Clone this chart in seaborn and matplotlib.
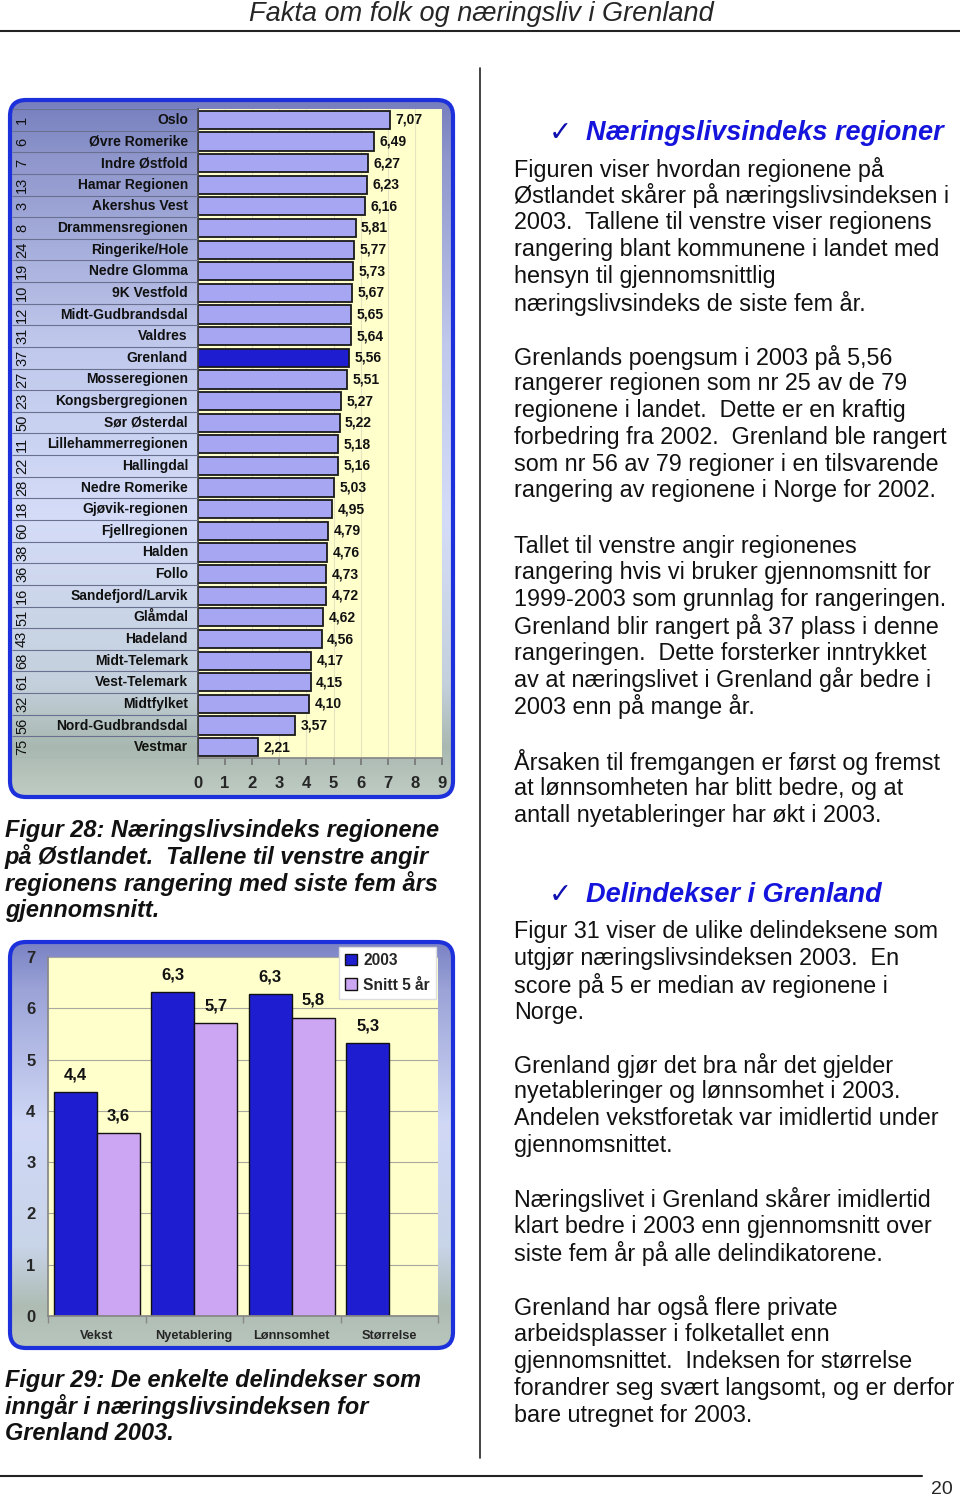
import numpy as np
import pandas as pd
import seaborn as sns
import matplotlib.pyplot as plt
from matplotlib.patches import FancyBboxPatch
from matplotlib.colors import LinearSegmentedColormap
from matplotlib.lines import Line2D

# Figur 28: næringslivsindeks 2003, regioner på Østlandet
regions = ['Oslo', 'Øvre Romerike', 'Indre Østfold', 'Hamar Regionen', 'Akershus Vest',
           'Drammensregionen', 'Ringerike/Hole', 'Nedre Glomma', '9K Vestfold',
           'Midt-Gudbrandsdal', 'Valdres', 'Grenland', 'Mosseregionen', 'Kongsbergregionen',
           'Sør Østerdal', 'Lillehammerregionen', 'Hallingdal', 'Nedre Romerike',
           'Gjøvik-regionen', 'Fjellregionen', 'Halden', 'Follo', 'Sandefjord/Larvik',
           'Glåmdal', 'Hadeland', 'Midt-Telemark', 'Vest-Telemark', 'Midtfylket',
           'Nord-Gudbrandsdal', 'Vestmar']
ranks = [1, 6, 7, 13, 3, 8, 24, 19, 10, 12, 31, 37, 27, 23, 50, 11, 22, 28, 18, 60,
         38, 36, 16, 51, 43, 68, 61, 32, 56, 75]
scores = [7.07, 6.49, 6.27, 6.23, 6.16, 5.81, 5.77, 5.73, 5.67, 5.65, 5.64, 5.56, 5.51,
          5.27, 5.22, 5.18, 5.16, 5.03, 4.95, 4.79, 4.76, 4.73, 4.72, 4.62, 4.56, 4.17,
          4.15, 4.10, 3.57, 2.21]

# Figur 29: delindekser Grenland
deler = ['Vekst', 'Nyetablering', 'Lønnsomhet', 'Størrelse']
score_2003 = [4.36, 6.31, 6.27, 5.32]
score_snitt = [3.57, 5.71, 5.82, np.nan]

header = 'Fakta om folk og næringsliv i Grenland'
heading1 = 'Næringslivsindeks regioner'
heading2 = 'Delindekser i Grenland'
paragraphs = [
    (169, ['Figuren viser hvordan regionene på',
           'Østlandet skårer på næringslivsindeksen i',
           '2003.  Tallene til venstre viser regionens',
           'rangering blant kommunene i landet med',
           'hensyn til gjennomsnittlig',
           'næringslivsindeks de siste fem år.']),
    (357, ['Grenlands poengsum i 2003 på 5,56',
           'rangerer regionen som nr 25 av de 79',
           'regionene i landet.  Dette er en kraftig',
           'forbedring fra 2002.  Grenland ble rangert',
           'som nr 56 av 79 regioner i en tilsvarende',
           'rangering av regionene i Norge for 2002.']),
    (546, ['Tallet til venstre angir regionenes',
           'rangering hvis vi bruker gjennomsnitt for',
           '1999-2003 som grunnlag for rangeringen.',
           'Grenland blir rangert på 37 plass i denne',
           'rangeringen.  Dette forsterker inntrykket',
           'av at næringslivet i Grenland går bedre i',
           '2003 enn på mange år.']),
    (762, ['Årsaken til fremgangen er først og fremst',
           'at lønnsomheten har blitt bedre, og at',
           'antall nyetableringer har økt i 2003.']),
    (932, ['Figur 31 viser de ulike delindeksene som',
           'utgjør næringslivsindeksen 2003.  En',
           'score på 5 er median av regionene i',
           'Norge.']),
    (1065, ['Grenland gjør det bra når det gjelder',
            'nyetableringer og lønnsomhet i 2003.',
            'Andelen vekstforetak var imidlertid under',
            'gjennomsnittet.']),
    (1200, ['Næringslivet i Grenland skårer imidlertid',
            'klart bedre i 2003 enn gjennomsnitt over',
            'siste fem år på alle delindikatorene.']),
    (1308, ['Grenland har også flere private',
            'arbeidsplasser i folketallet enn',
            'gjennomsnittet.  Indeksen for størrelse',
            'forandrer seg svært langsomt, og er derfor',
            'bare utregnet for 2003.']),
]
caption28 = ['Figur 28: Næringslivsindeks regionene',
             'på Østlandet.  Tallene til venstre angir',
             'regionens rangering med siste fem års',
             'gjennomsnitt.']
caption29 = ['Figur 29: De enkelte delindekser som',
             'inngår i næringslivsindeksen for',
             'Grenland 2003.']

W, H = 960, 1500
sns.set_theme(style='white')
plt.rcParams['font.family'] = ['Liberation Sans', 'DejaVu Sans']

fig = plt.figure(figsize=(9.6, 15), dpi=100)
fig.patch.set_facecolor('white')


def box(x0, y0, x1, y1):
    return [x0 / W, 1 - y1 / H, (x1 - x0) / W, (y1 - y0) / H]


def fy(y):
    return 1 - y / H


def panel(x0, y0, x1, y1, stops):
    cmap = LinearSegmentedColormap.from_list('p', stops)
    bg = fig.add_axes(box(x0, y0, x1, y1), zorder=0)
    bg.set_axis_off()
    grad = np.linspace(0, 1, 256).reshape(-1, 1)
    im = bg.imshow(grad, aspect='auto', cmap=cmap, extent=[0, 1, 0, 1], origin='upper')
    shape = dict(boxstyle='round,pad=0,rounding_size=0.16', transform=fig.dpi_scale_trans)
    clip = FancyBboxPatch((x0 / 100, (H - y1) / 100), (x1 - x0) / 100, (y1 - y0) / 100, **shape)
    im.set_clip_path(clip)
    fig.add_artist(FancyBboxPatch((x0 / 100, (H - y1) / 100), (x1 - x0) / 100, (y1 - y0) / 100,
                                  fill=False, edgecolor='#1c30dc', linewidth=3, zorder=1, **shape))


panel(10, 100, 453, 797, [(0, '#767ebe'), (0.08, '#8e96cc'), (0.35, '#c0c8ec'),
                          (0.6, '#d4dcf8'), (0.84, '#c4d0dc'), (0.93, '#a8b8b0'), (1, '#c0ccc4')])
panel(10, 942, 453, 1348, [(0, '#7a82c4'), (0.12, '#9ca4d8'), (0.45, '#d0d8f6'),
                           (0.75, '#c8d4e8'), (0.9, '#aebcb4'), (1, '#b8c6bc')])

# ---- Figur 28 ----
ax1 = fig.add_axes(box(198, 109, 442, 758), zorder=2)
ax1.set_facecolor('#FFFFCC')
df1 = pd.DataFrame({'region': regions, 'score': scores, 'rank': ranks})
bar_colors = {r: ('#0000EE' if r == 'Grenland' else '#9999FF') for r in regions}
sns.barplot(data=df1, x='score', y='region', hue='region', palette=bar_colors,
            legend=False, width=0.84, edgecolor='#1a1a1a', linewidth=1.3, ax=ax1)
for i, v in enumerate(df1['score']):
    ax1.text(v + 0.2, i, f'{v:.2f}'.replace('.', ','), ha='left', va='center',
             fontsize=10, fontweight='bold', color='#111111')
ax1.set_xlim(0, 9)
ax1.set_ylim(29.5, -0.5)
ax1.set_xticks(range(10))
ax1.set_xticklabels([str(t) for t in range(10)], fontsize=12, fontweight='bold')
ax1.tick_params(axis='x', length=5, color='#777777', pad=8, bottom=True)
ax1.tick_params(axis='y', left=False, labelleft=False)
ax1.grid(axis='x', color='#e4e4c0', linewidth=0.8)
ax1.set_axisbelow(True)
ax1.set_xlabel('')
ax1.set_ylabel('')
for s in ['top', 'right']:
    ax1.spines[s].set_visible(False)
ax1.spines['left'].set_color('#444444')
ax1.spines['bottom'].set_color('#888888')

lab = fig.add_axes(box(12, 109, 198, 758), zorder=2)
lab.patch.set_alpha(0)
lab.set_axis_off()
lab.set_xlim(0, 186)
lab.set_ylim(29.5, -0.5)
lab.hlines(np.arange(-0.5, 30, 1), 0, 186, color='#6a7090', linewidth=0.8)
for i, (r, name) in enumerate(zip(df1['rank'], df1['region'])):
    lab.text(10, i, str(r), rotation=90, ha='center', va='center', fontsize=10.5, color='#111111')
    lab.text(176, i, name, ha='right', va='center', fontsize=10, fontweight='bold', color='#111111')

# ---- Figur 29 ----
ax2 = fig.add_axes(box(48, 957, 438, 1316), zorder=2)
ax2.set_facecolor('#FFFFCC')
df2 = pd.DataFrame({'del': deler * 2,
                    'score': score_2003 + score_snitt,
                    'serie': ['2003'] * 4 + ['Snitt 5 år'] * 4}).dropna()
sns.barplot(data=df2, x='del', y='score', hue='serie', order=deler,
            palette={'2003': '#0000EE', 'Snitt 5 år': '#CC99FF'},
            width=0.88, edgecolor='#111111', linewidth=1, ax=ax2)
for c in ax2.containers:
    ax2.bar_label(c, fmt=lambda v: f'{v:.1f}'.replace('.', ','), padding=7,
                  fontsize=12, fontweight='bold', color='#111111')
ax2.set_ylim(0, 7)
ax2.set_yticks(range(8))
ax2.set_yticklabels([str(t) for t in range(8)], fontsize=12, fontweight='bold')
ax2.set_xticks(range(4))
ax2.set_xticklabels(deler, fontsize=9.2, fontweight='bold')
ax2.set_xticks(np.arange(-0.5, 4, 1), minor=True)
ax2.tick_params(axis='x', which='major', length=0, pad=10)
ax2.tick_params(axis='x', which='minor', length=5, color='#888888', bottom=True)
ax2.tick_params(axis='y', length=0, pad=9)
ax2.grid(axis='y', color='#a8a8a0', linewidth=0.8)
ax2.set_axisbelow(True)
ax2.set_xlabel('')
ax2.set_ylabel('')
for s in ['top', 'right']:
    ax2.spines[s].set_visible(False)
ax2.spines['left'].set_color('#888888')
ax2.spines['bottom'].set_color('#888888')
ax2.legend(loc='upper left', bbox_to_anchor=(339 / W, fy(947)), bbox_transform=fig.transFigure,
           frameon=True, fancybox=False, edgecolor='#dddddd', facecolor='white', framealpha=1,
           borderpad=0.4, handlelength=0.75, handleheight=0.75, handletextpad=0.4,
           labelspacing=0.6, borderaxespad=0, prop={'weight': 'bold', 'size': 11.2})

# ---- page text ----
fig.text(481 / W, fy(14), header, ha='center', va='center', fontsize=19.5, style='italic')
fig.add_artist(Line2D([0, 1], [fy(31), fy(31)], color='#222222', linewidth=1.5))
fig.add_artist(Line2D([480 / W, 480 / W], [fy(68), fy(1458)], color='#222222', linewidth=1.2))
fig.add_artist(Line2D([0, 922 / W], [fy(1476), fy(1476)], color='#222222', linewidth=1.5))
fig.text(942 / W, fy(1489), '20', ha='center', va='center', fontsize=14)

for y, txt in [(133, heading1), (895, heading2)]:
    fig.text(560 / W, fy(y), '✓', ha='center', va='center', fontsize=20, color='#1010b0',
             family=['DejaVu Sans'])
    fig.text(586 / W, fy(y), txt, ha='left', va='center', fontsize=19.5, color='#1414dc',
             fontweight='bold', style='italic')

step = 26.8
for y0, lines in paragraphs:
    for k, line in enumerate(lines):
        fig.text(514 / W, fy(y0 + k * step), line, ha='left', va='center', fontsize=16.8,
                 color='#111111')

for y0, lines in [(830, caption28), (1380, caption29)]:
    for k, line in enumerate(lines):
        fig.text(5 / W, fy(y0 + k * 26.9), line, ha='left', va='center', fontsize=16.9,
                 fontweight='bold', style='italic', color='#111111')

fig.savefig('out.png', dpi=100)
